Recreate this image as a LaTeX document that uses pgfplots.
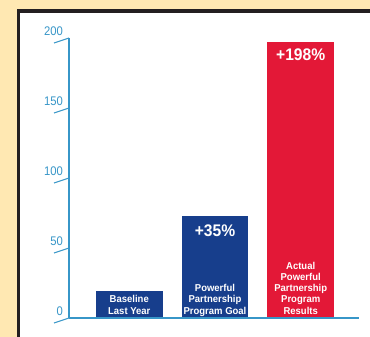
\documentclass[border=0pt]{standalone}
\usepackage{pgfplots}
\pgfplotsset{compat=1.18}
\usepackage{fontspec}
\setmainfont{Liberation Sans}
\newfontfamily\condfont{Liberation Sans}[FakeStretch=0.9]
\newfontfamily\condbold{Liberation Sans Bold}[FakeStretch=0.93]
\newfontfamily\labbold{Liberation Sans Bold}[FakeStretch=0.95]
\definecolor{bgbeige}{RGB}{255,232,178}
\definecolor{framebk}{RGB}{35,31,32}
\definecolor{axisblue}{RGB}{55,150,200}
\definecolor{barblue}{RGB}{23,62,140}
\definecolor{barred}{RGB}{227,24,55}
\begin{document}
\begin{tikzpicture}[x=1pt,y=1pt]
\useasboundingbox (0,0) rectangle (370,337);
\fill[bgbeige] (0,0) rectangle (370,337);
\fill[framebk] (16.7,0) rectangle (370,327.7);
\fill[white] (20,0) rectangle (370,324);
\begin{axis}[
  at={(69pt,19pt)}, anchor=south west,
  scale only axis, width=290pt, height=280pt,
  xmin=-0.703, xmax=2.68, ymin=0, ymax=200,
  axis x line=bottom, axis y line=left,
  axis line style={-, axisblue, line width=1.2pt},
  xtick=\empty,
  ytick={0,50,100,150,200},
  major tick length=0pt,
  /pgf/number format/assume math mode=true,
  yticklabel style={font=\condfont\fontsize{12.5}{14}\selectfont, text=axisblue, anchor=south east, inner sep=0pt, xshift=-6pt, yshift=2.5pt},
  clip=false,
]
\addplot[ybar, bar shift=0pt, bar width=0.78, fill=barblue, draw=none] coordinates {(0,19.3)};
\addplot[ybar, bar shift=0pt, bar width=0.78, fill=barblue, draw=none] coordinates {(1,72.9)};
\addplot[ybar, bar shift=0pt, bar width=0.78, fill=barred, draw=none] coordinates {(2,197.1)};
\pgfplotsinvokeforeach{0,50,100,150,200}{
  \draw[axisblue, line width=1.1pt] ([xshift=-15pt,yshift=-5pt]axis cs:-0.703,#1) -- (axis cs:-0.703,#1);
}
\draw[axisblue, line width=1.2pt] (axis cs:-0.703,0) -- (axis cs:2.68,0);
\node[white, font=\condbold\fontsize{16.8}{18}\selectfont, anchor=north, inner sep=0pt, yshift=-7pt] at (axis cs:2,197.1) {+198\%};
\node[white, font=\condbold\fontsize{16.8}{18}\selectfont, anchor=north, inner sep=0pt, yshift=-9pt] at (axis cs:1,72.9) {+35\%};
\begin{scope}[every node/.style={white, font=\labbold\fontsize{10}{11.2}\selectfont, align=center, anchor=south, inner sep=0pt, text depth=0pt, yshift=3.7pt}]
\node at (axis cs:0,0) {Baseline\\Last Year};
\node at (axis cs:1,0) {Powerful\\Partnership\\Program Goal};
\node at (axis cs:2,0) {Actual\\Powerful\\Partnership\\Program\\Results};
\end{scope}
\end{axis}
\end{tikzpicture}
\end{document}
